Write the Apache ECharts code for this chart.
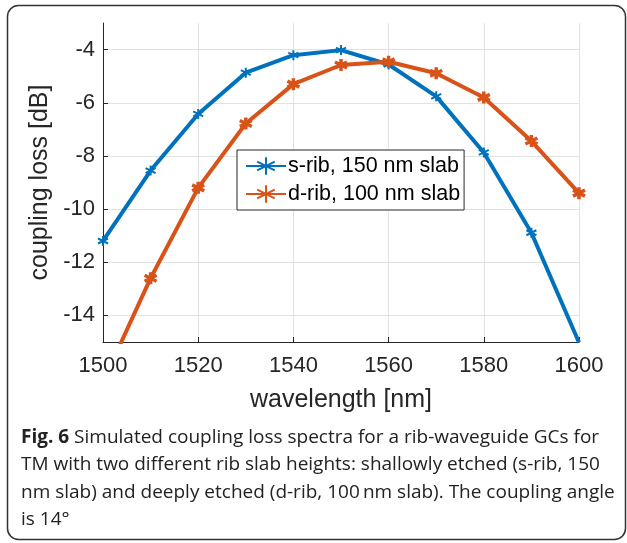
<!DOCTYPE html>
<html>
<head>
<meta charset="utf-8">
<script src="https://cdn.jsdelivr.net/npm/echarts@6/dist/echarts.min.js"></script>
<style>
html,body{margin:0;padding:0;background:#fff;}
#chart{width:627px;height:543px;}
</style>
</head>
<body>
<div id="chart"></div>
<script>
// ---- data ----
const wavelengths = [1500, 1510, 1520, 1530, 1540, 1550, 1560, 1570, 1580, 1590, 1600];
const sRib = [-11.2, -8.55, -6.42, -4.87, -4.21, -4.02, -4.56, -5.76, -7.87, -10.89, -15.02];
const dRib = [-16.5, -12.6, -9.2, -6.78, -5.3, -4.58, -4.46, -4.89, -5.8, -7.44, -9.4];
const xTicks = [1500, 1520, 1540, 1560, 1580, 1600];
const yTicks = [-14, -12, -10, -8, -6, -4];
const seriesNames = ['s-rib, 150 nm slab', 'd-rib, 100 nm slab'];
const xName = 'wavelength [nm]';
const yName = 'coupling loss [dB]';
const captionLines = [
  'Simulated coupling loss spectra for a rib-waveguide GCs for',
  'TM with two different rib slab heights: shallowly etched (s-rib, 150',
  'nm slab) and deeply etched (d-rib, 100\u2009nm slab). The coupling angle',
  'is 14\u00b0'
];
const captionLabel = 'Fig. 6';

const axisColor = '#262626';
const gridColor = '#e2e2e2';
const font = '"Liberation Sans", Arial, Helvetica, sans-serif';
const capFont = '"Open Sans", "Noto Sans", sans-serif';
const star = 'path://M5,0L5,10M0.67,2.5L9.33,7.5M0.67,7.5L9.33,2.5';

const chart = echarts.init(document.getElementById('chart'), null, {renderer: 'canvas'});

const capY = [441, 468.5, 496, 523];
const capSize = 19;
const graphics = [{
  type: 'rect',
  shape: {x: 7.5, y: 5.5, width: 618, height: 534, r: 11},
  style: {fill: 'none', stroke: '#333', lineWidth: 1.5},
  silent: true
}];
captionLines.forEach((t, i) => {
  graphics.push({
    type: 'text',
    left: 21,
    top: capY[i] - capSize * 0.68,
    style: {
      text: i === 0 ? '{b|' + captionLabel + '} ' + t : t,
      font: capSize + 'px ' + capFont,
      fill: '#222',
      rich: {b: {fontWeight: 'bold', fontSize: capSize, fontFamily: capFont, fill: '#222'}}
    },
    silent: true
  });
});

const mkSeries = (name, ys, color, size, bw) => ({
  name: name,
  type: 'line',
  data: wavelengths.map((w, i) => [w, ys[i]]),
  symbol: star,
  symbolSize: size,
  showSymbol: true,
  clip: true,
  lineStyle: {color: color, width: 4},
  itemStyle: {color: color, borderColor: color, borderWidth: bw},
  emphasis: {disabled: true},
  animation: false
});

chart.setOption({
  animation: false,
  backgroundColor: '#fff',
  grid: {left: 103, right: 48, top: 23, bottom: 201, containLabel: false},
  legend: {
    left: 237, top: 150,
    orient: 'vertical',
    backgroundColor: '#fff',
    borderColor: axisColor, borderWidth: 1,
    padding: [5, 4, 5, 8],
    itemGap: 6,
    itemWidth: 40, itemHeight: 22,
    textStyle: {fontSize: 21.5, fontFamily: font, color: '#000', padding: [0, 0, 0, -3]},
    data: seriesNames
  },
  xAxis: {
    type: 'value', min: 1500, max: 1600, interval: 20,
    name: xName, nameLocation: 'middle', nameGap: 46,
    nameTextStyle: {fontSize: 25, fontFamily: font, color: axisColor},
    axisLine: {show: true, onZero: false, lineStyle: {color: axisColor, width: 1}},
    axisTick: {show: true, inside: true, length: 5, lineStyle: {color: axisColor}},
    axisLabel: {fontSize: 22, fontFamily: font, color: axisColor, margin: 13,
      formatter: v => String(v)},
    splitLine: {show: true, lineStyle: {color: gridColor, width: 1}}
  },
  yAxis: {
    type: 'value', min: -15, max: -3,
    name: yName, nameLocation: 'middle', nameGap: 46,
    nameTextStyle: {fontSize: 25, fontFamily: font, color: axisColor},
    axisLine: {show: true, onZero: false, lineStyle: {color: axisColor, width: 1}},
    axisTick: {show: true, inside: true, length: 5, lineStyle: {color: axisColor}, customValues: yTicks},
    axisLabel: {fontSize: 22, fontFamily: font, color: axisColor, margin: 8, customValues: yTicks,
      formatter: v => String(v)},
    splitLine: {show: true, lineStyle: {color: gridColor, width: 1}}
  },
  series: [
    mkSeries(seriesNames[0], sRib, '#0072BD', 10, 2),
    mkSeries(seriesNames[1], dRib, '#D95319', 12, 3.5)
  ],
  graphic: graphics
});
</script>
</body>
</html>
